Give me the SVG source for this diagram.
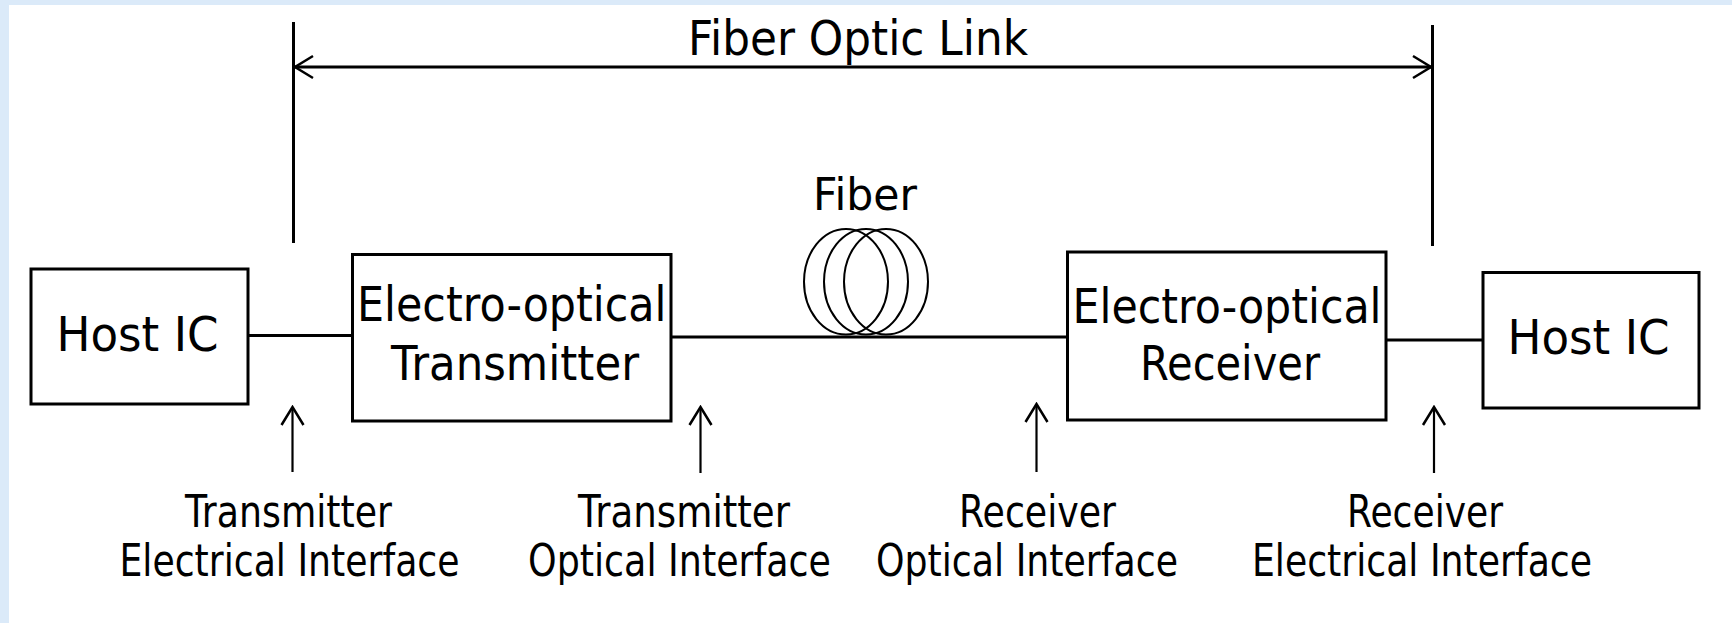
<svg xmlns="http://www.w3.org/2000/svg" width="1732" height="623" viewBox="0 0 1732 623">
  <style>
    .box { fill: #ffffff; stroke: #000000; stroke-width: 3; }
    .ln { fill: none; stroke: #000000; stroke-width: 3; }
    .thin { fill: none; stroke: #000000; stroke-width: 2.2; }
    .coil { fill: none; stroke: #000000; stroke-width: 2; }
    .big { font-family: "DejaVu Sans", Verdana, sans-serif; font-size: 48px; fill: #000000; }
    .lbl { font-family: "DejaVu Sans", Verdana, sans-serif; font-size: 44px; fill: #000000; }
  </style>
  <defs>
    <marker id="open" viewBox="-21 -13 23 26" refX="0" refY="0" markerWidth="23" markerHeight="26" markerUnits="userSpaceOnUse" orient="auto-start-reverse">
      <path d="M-18,-11 L0,0 L-18,11" fill="none" stroke="#000000" stroke-width="2.5" stroke-linejoin="miter"/>
    </marker>
  </defs>

  <rect x="0" y="0" width="1732" height="623" fill="#dbeaf9"/>
  <rect x="9" y="5" width="1723" height="618" fill="#ffffff"/>

  <g id="connectors">
    <line class="ln" x1="293.5" y1="22" x2="293.5" y2="243"/>
    <line class="ln" x1="1432.5" y1="25" x2="1432.5" y2="246"/>
    <line class="ln" x1="295" y1="67" x2="1431" y2="67" marker-start="url(#open)" marker-end="url(#open)"/>
    <line class="ln" x1="248" y1="335.5" x2="352" y2="335.5"/>
    <line class="ln" x1="671" y1="337" x2="1067" y2="337"/>
    <line class="ln" x1="1386" y1="340" x2="1483" y2="340"/>
    <line class="thin" x1="292.5" y1="472" x2="292.5" y2="407" marker-end="url(#open)"/>
    <line class="thin" x1="700.5" y1="473" x2="700.5" y2="407" marker-end="url(#open)"/>
    <line class="thin" x1="1036.5" y1="472" x2="1036.5" y2="404" marker-end="url(#open)"/>
    <line class="thin" x1="1434" y1="473" x2="1434" y2="407" marker-end="url(#open)"/>
  </g>

  <g id="title">
    <text class="big" x="688" y="55" textLength="340" lengthAdjust="spacingAndGlyphs" font-size="49">Fiber Optic Link</text>
  </g>

  <g id="host-left">
    <rect class="box" x="31" y="269" width="217" height="135"/>
    <text class="big" x="56.5" y="350.5" textLength="162" lengthAdjust="spacingAndGlyphs">Host IC</text>
  </g>

  <g id="transmitter">
    <rect class="box" x="352.5" y="254.5" width="318.5" height="166.5"/>
    <text class="big" x="357" y="321" textLength="309.5" lengthAdjust="spacingAndGlyphs">Electro-optical</text>
    <text class="big" x="391" y="380" textLength="248" lengthAdjust="spacingAndGlyphs">Transmitter</text>
  </g>

  <g id="fiber">
    <ellipse class="coil" cx="846" cy="281.8" rx="42" ry="52.8"/>
    <ellipse class="coil" cx="866" cy="281.8" rx="42" ry="52.8"/>
    <ellipse class="coil" cx="886" cy="281.8" rx="42" ry="52.8"/>
    <text class="lbl" x="813" y="210" font-size="44" textLength="104" lengthAdjust="spacingAndGlyphs">Fiber</text>
  </g>

  <g id="receiver">
    <rect class="box" x="1067.5" y="252" width="318.5" height="168"/>
    <text class="big" x="1072.5" y="323" textLength="309" lengthAdjust="spacingAndGlyphs">Electro-optical</text>
    <text class="big" x="1140" y="379.5" textLength="180" lengthAdjust="spacingAndGlyphs">Receiver</text>
  </g>

  <g id="host-right">
    <rect class="box" x="1483" y="272.5" width="216" height="135.5"/>
    <text class="big" x="1507.5" y="354" textLength="162" lengthAdjust="spacingAndGlyphs">Host IC</text>
  </g>

  <g id="label-tx-elec">
    <text class="lbl" x="185" y="527" textLength="207" lengthAdjust="spacingAndGlyphs">Transmitter</text>
    <text class="lbl" x="119.5" y="575.5" textLength="340" lengthAdjust="spacingAndGlyphs">Electrical Interface</text>
  </g>
  <g id="label-tx-opt">
    <text class="lbl" x="578" y="527" textLength="212" lengthAdjust="spacingAndGlyphs">Transmitter</text>
    <text class="lbl" x="528" y="575.5" textLength="303" lengthAdjust="spacingAndGlyphs">Optical Interface</text>
  </g>
  <g id="label-rx-opt">
    <text class="lbl" x="959" y="527" textLength="157" lengthAdjust="spacingAndGlyphs">Receiver</text>
    <text class="lbl" x="876" y="575.5" textLength="302" lengthAdjust="spacingAndGlyphs">Optical Interface</text>
  </g>
  <g id="label-rx-elec">
    <text class="lbl" x="1347" y="527" textLength="156" lengthAdjust="spacingAndGlyphs">Receiver</text>
    <text class="lbl" x="1252" y="575.5" textLength="340" lengthAdjust="spacingAndGlyphs">Electrical Interface</text>
  </g>
</svg>
